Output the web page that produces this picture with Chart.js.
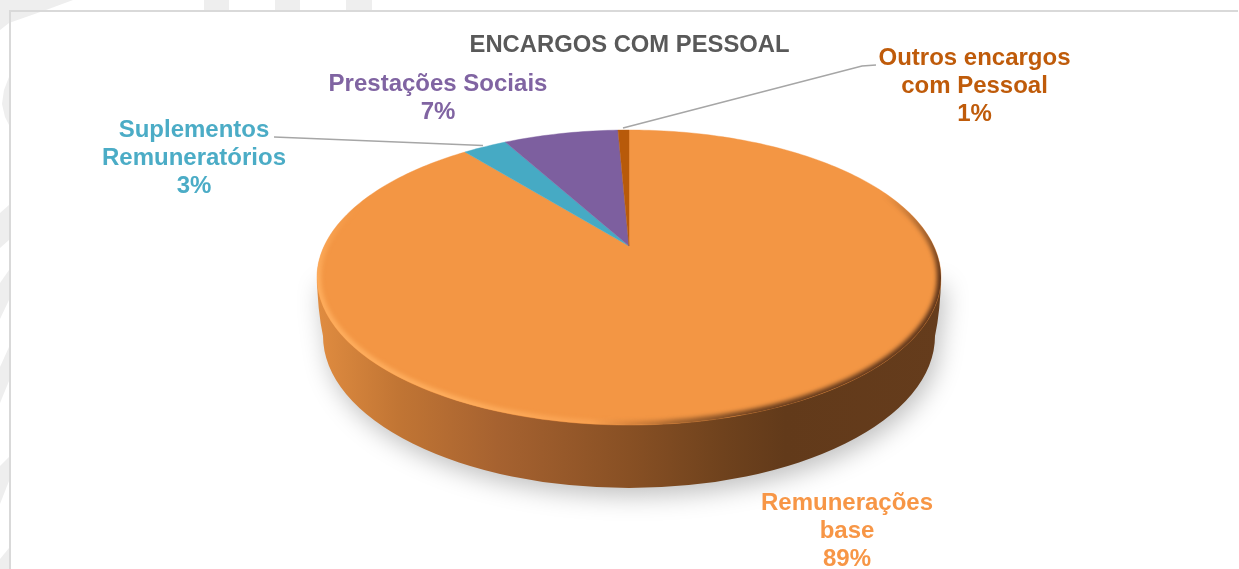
<!DOCTYPE html>
<html>
<head>
<meta charset="utf-8">
<style>html,body{margin:0;padding:0;background:#fff;overflow:hidden}canvas{display:block}</style>
<script src="https://cdn.jsdelivr.net/npm/chart.js@4"></script>
</head>
<body>
<canvas id="c" width="1239" height="569"></canvas>
<script>
const chartTitle = 'ENCARGOS COM PESSOAL';
const categories = ['Remunerações base', 'Suplementos Remuneratórios', 'Prestações Sociais', 'Outros encargos com Pessoal'];
const labelLines = [['Remunerações', 'base'], ['Suplementos', 'Remuneratórios'], ['Prestações Sociais'], ['Outros encargos', 'com Pessoal']];
const shares = [89.2, 2.8, 7.3, 0.7];
const sliceColors = ['#F39644', '#46AAC4', '#7D5F9F', '#B85A0A'];
const labelColors = ['#F79646', '#4BACC6', '#8064A2', '#BF5B0A'];

const F = 'bold 24px "Liberation Sans", Arial, sans-serif';
const labelPos = [[847, 503], [194, 130], [438, 84], [974.5, 58]];
const leaders = [null, [[274, 137], [483, 145.5]], null, [[876, 65], [862, 66], [623, 128]]];
const P = {cx: 629, cy: 246, A: 304.8, B: 140.8, k: 0.2136, ey: 277.5, rx: 312, ry: 147.5};
const map = (a) => {
  const X = Math.cos(a), Y = Math.sin(a), w = 1 - P.k * Y;
  return [P.cx + P.A * X / w, P.cy + P.B * Y / w];
};
const watermark = [
  [[0,0],[73,0],[46,10],[9,23],[0,30]],
  [[204,0],[229,0],[229,10],[204,10]],
  [[275,0],[300,0],[300,10],[275,10]],
  [[346,0],[372,0],[372,10],[346,10]],
  [[9,77],[4,90],[2,104],[5,117],[9,125]],
  [[9,205],[0,213],[0,248],[9,240]],
  [[9,270],[0,283],[0,319],[9,300]],
  [[9,347],[0,367],[0,403],[9,381]],
  [[9,457],[0,466],[0,504],[9,481]],
  [[9,548],[0,559],[0,569],[9,569]]
];

const pie3d = {
  id: 'pie3d',
  beforeDraw(ch) {
    const c = ch.ctx;
    c.save();
    c.fillStyle = '#ffffff';
    c.fillRect(0, 0, 1239, 569);
    c.fillStyle = '#eeeeee';
    watermark.forEach(p => { c.beginPath(); p.forEach((q, i) => i ? c.lineTo(q[0], q[1]) : c.moveTo(q[0], q[1])); c.closePath(); c.fill(); });
    c.fillStyle = '#d9d9d9';
    c.fillRect(9, 10, 1229, 2);
    c.fillRect(9, 10, 2, 559);
    c.restore();
  },
  beforeDatasetsDraw(ch) {
    const c = ch.ctx;
    c.save();
    const side = new Path2D();
    side.moveTo(317, P.ey);
    side.quadraticCurveTo(317.5, 310, 323, 336);
    side.ellipse(P.cx, 336, 306, 152, 0, Math.PI, 0, true);
    side.quadraticCurveTo(940.5, 310, 941, P.ey);
    side.closePath();
    const g = c.createLinearGradient(317, 0, 941, 0);
    [[0,'#E08C40'],[0.13,'#C17534'],[0.29,'#A66230'],[0.5,'#885024'],[0.65,'#6F421D'],[0.75,'#623A1A'],[1,'#653C1C']]
      .forEach(s => g.addColorStop(s[0], s[1]));
    c.save();
    c.shadowColor = 'rgba(90,90,90,0.38)';
    c.shadowBlur = 24;
    c.shadowOffsetX = 4;
    c.shadowOffsetY = 8;
    c.fillStyle = g;
    c.fill(side);
    c.restore();
    c.restore();
    ch.getDatasetMeta(0).data.forEach(el => {
      el.draw = function (ctx) {
        const s = this.startAngle, e = this.endAngle, n = Math.max(2, Math.ceil((e - s) / 0.02));
        ctx.save();
        ctx.beginPath();
        ctx.moveTo(P.cx, P.cy);
        for (let i = 0; i <= n; i++) { const q = map(s + (e - s) * i / n); ctx.lineTo(q[0], q[1]); }
        ctx.closePath();
        ctx.fillStyle = this.options.backgroundColor;
        ctx.strokeStyle = this.options.backgroundColor;
        ctx.lineWidth = 0.4;
        ctx.fill();
        ctx.stroke();
        ctx.restore();
      };
    });
  },
  afterDatasetsDraw(ch) {
    const c = ch.ctx;
    c.save();
    const face = new Path2D();
    face.ellipse(P.cx, P.ey, P.rx, P.ry, 0, 0, Math.PI * 2);
    c.clip(face);
    const g = c.createConicGradient(0, P.cx, P.ey);
    [[0,'rgba(90,50,25,1)'],[0.13,'rgba(100,58,28,0.95)'],[0.2,'rgba(140,85,40,0.75)'],[0.25,'rgba(190,115,55,0.5)'],[0.29,'rgba(255,170,90,0.55)'],[0.4,'rgba(255,176,96,0.9)'],[0.5,'rgba(255,176,96,0.9)'],[0.54,'rgba(255,176,96,0)'],[0.95,'rgba(90,50,25,0)'],[1,'rgba(90,50,25,1)']]
      .forEach(s => g.addColorStop(s[0], s[1]));
    c.filter = 'blur(2px)';
    c.strokeStyle = g;
    c.lineWidth = 8;
    c.beginPath();
    c.ellipse(P.cx, P.ey, P.rx, P.ry, 0, 0, Math.PI * 2);
    c.stroke();
    c.restore();
  },
  afterDraw(ch) {
    const c = ch.ctx;
    c.save();
    c.strokeStyle = '#A6A6A6';
    c.lineWidth = 1.5;
    leaders.forEach(l => {
      if (!l) return;
      c.beginPath();
      l.forEach((q, i) => i ? c.lineTo(q[0], q[1]) : c.moveTo(q[0], q[1]));
      c.stroke();
    });
    c.font = F;
    c.textAlign = 'center';
    c.textBaseline = 'middle';
    labelLines.forEach((lines, i) => {
      c.fillStyle = labelColors[i];
      const all = lines.concat([Math.round(shares[i]) + '%']);
      all.forEach((t, j) => c.fillText(t, labelPos[i][0], labelPos[i][1] + j * 28));
    });
    c.restore();
  }
};

new Chart(document.getElementById('c'), {
  type: 'pie',
  data: {
    labels: categories,
    datasets: [{ data: shares, backgroundColor: sliceColors, borderWidth: 0, hoverOffset: 0 }]
  },
  options: {
    responsive: false,
    animation: false,
    layout: { padding: { left: 20 } },
    plugins: {
      legend: { display: false },
      tooltip: { enabled: false },
      title: {
        display: true,
        text: chartTitle,
        color: '#595959',
        font: { family: '"Liberation Sans", Arial, sans-serif', size: 23.8, weight: 'bold' },
        padding: { top: 31, bottom: 10 }
      }
    }
  },
  plugins: [pie3d]
});
</script>
</body>
</html>
